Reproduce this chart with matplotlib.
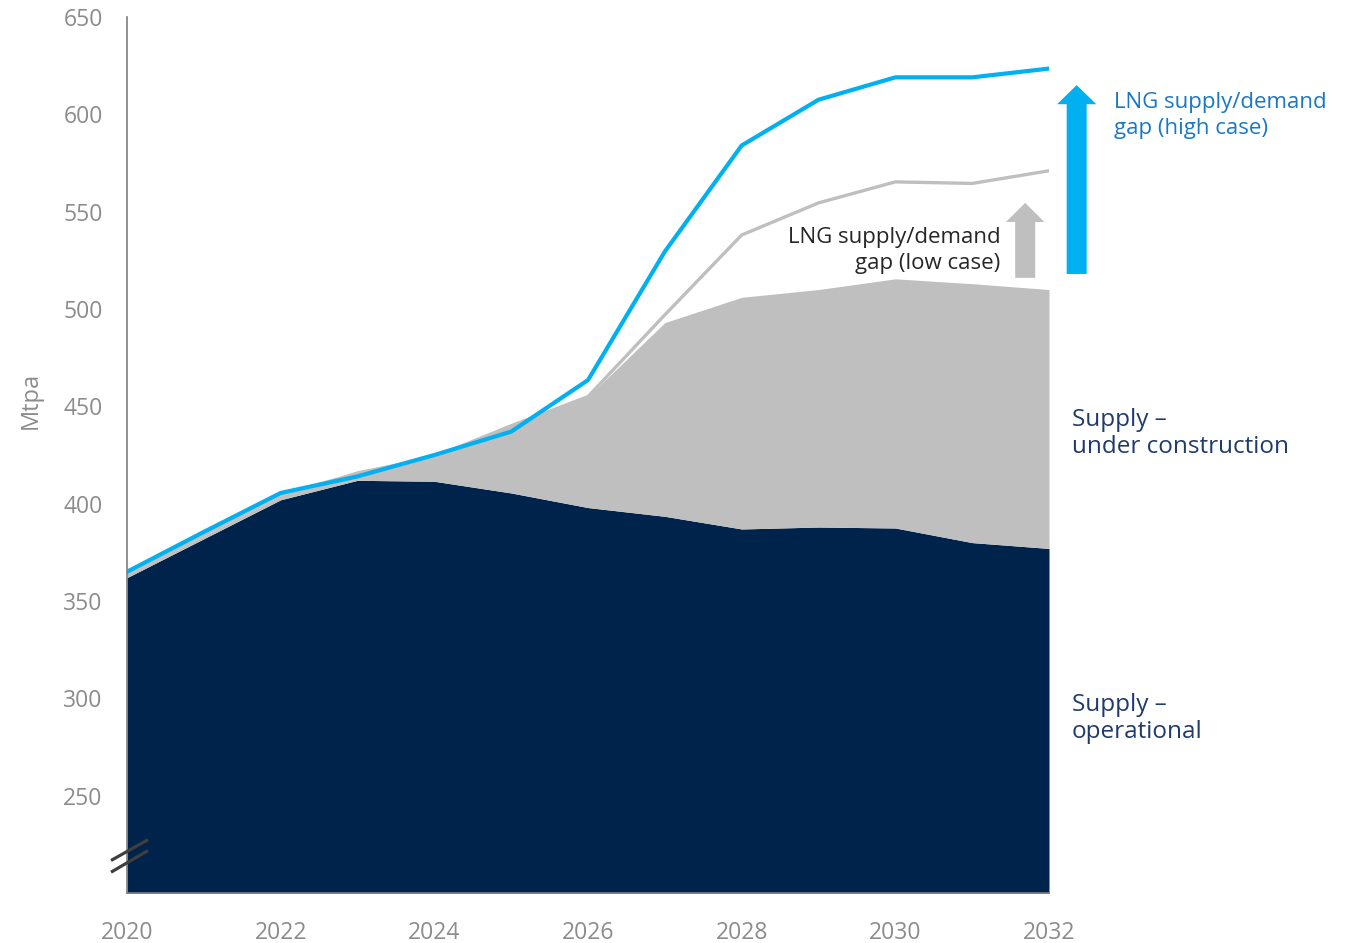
import matplotlib
matplotlib.use("Agg")
import matplotlib.pyplot as plt
from matplotlib.patches import FancyArrow
from matplotlib.lines import Line2D

plt.rcParams['font.family'] = ['Open Sans', 'DejaVu Sans']

years = [2020, 2021, 2022, 2023, 2024, 2025, 2026, 2027, 2028, 2029, 2030, 2031, 2032]
supply_operational = [362, 382, 402, 412, 411.5, 405.5, 398, 393.5, 387, 388, 387.5, 380, 377]
supply_total = [363.5, 383.5, 404, 417, 424.5, 441, 455, 493, 506, 510, 515.5, 513, 510]
demand_low = [363.5, 384, 404.5, 415.5, 424, 440, 455, 497, 538, 554.5, 565.3, 564.5, 571]
demand_high = [365, 385.5, 405.5, 414, 425, 437, 463.5, 529.5, 584, 607.5, 619, 619, 623.5]
x_ticks = [2020, 2022, 2024, 2026, 2028, 2030, 2032]
y_ticks = [250, 300, 350, 400, 450, 500, 550, 600, 650]

NAVY = '#00234b'
GREY = '#bfbfbf'
BLUE = '#00b0f0'
AXGREY = '#8c8c8c'

fig = plt.figure(figsize=(13.6, 9.43), dpi=100)
ax = fig.add_axes([127/1360, 1-893/943, (1049-127)/1360, (893-17)/943])

ymin = 200
ax.fill_between(years, ymin, supply_operational, color=NAVY, lw=0, zorder=2)
ax.fill_between(years, supply_operational, supply_total, color=GREY, lw=0, zorder=2)
ax.plot(years, demand_low, color=GREY, lw=2.4, zorder=3, solid_joinstyle='miter')
ax.plot(years, demand_high, color=BLUE, lw=3.0, zorder=4, solid_joinstyle='miter')

ax.set_xlim(2020, 2032)
ax.set_ylim(ymin, 650)
ax.set_xticks(x_ticks)
ax.set_yticks(y_ticks)
ax.tick_params(axis='both', length=0, labelsize=16.5, colors=AXGREY)
ax.tick_params(axis='x', pad=20)
ax.tick_params(axis='y', pad=17.5)
for s in ['top', 'right']:
    ax.spines[s].set_visible(False)
ax.spines['left'].set_color('#7f7f7f')
ax.spines['bottom'].set_color('#7f7f7f')
ax.spines['left'].set_linewidth(1.2)
ax.spines['bottom'].set_linewidth(1.2)
ax.spines['left'].set_zorder(5)
ax.set_ylabel('Mtpa', fontsize=17, color=AXGREY)
ax.yaxis.set_label_coords(-0.091, (893-400)/876)

# axis break marks
for y0, y1 in [(217.1, 227.0), (211.1, 221.4)]:
    ax.add_line(Line2D([2019.81, 2020.256], [y0, y1], color='#3f3f3f', lw=2.3,
                       clip_on=False, zorder=6))

# arrows
ax.add_patch(FancyArrow(2031.69, 516, 0, 38.5, width=0.26, head_width=0.5,
                        head_length=9.8, length_includes_head=True,
                        color=GREY, lw=0, clip_on=False, zorder=5))
ax.add_patch(FancyArrow(2032.36, 518, 0, 97, width=0.26, head_width=0.51,
                        head_length=9.8, length_includes_head=True,
                        color=BLUE, lw=0, clip_on=False, zorder=5))

ax.text(2031.37, 530, 'LNG supply/demand\ngap (low case)', ha='right', va='center',
        fontsize=16, color='#262626', linespacing=1.3, zorder=6)
ax.text(2032.84, 599.5, 'LNG supply/demand\ngap (high case)', ha='left', va='center',
        fontsize=16, color='#1a78c2', linespacing=1.3, clip_on=False)
ax.text(2032.3, 436, 'Supply –\nunder construction', ha='left', va='center',
        fontsize=17.5, color='#1f3b6b', linespacing=1.15, clip_on=False)
ax.text(2032.3, 289.5, 'Supply –\noperational', ha='left', va='center',
        fontsize=17.5, color='#1f3b6b', linespacing=1.15, clip_on=False)

fig.savefig('out.png', dpi=100)
